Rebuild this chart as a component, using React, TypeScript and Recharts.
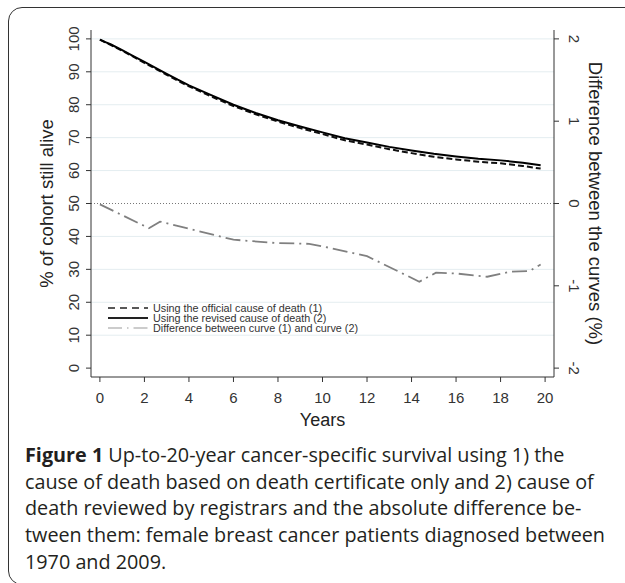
import React from 'react';
import { LineChart, Line, XAxis, YAxis, ReferenceLine, Legend } from 'recharts';

// survival curves (% of cohort still alive) by years since diagnosis
const years = [0, 0.25, 0.5, 1, 1.5, 2, 2.5, 3, 3.5, 4, 5, 6, 7, 8, 9, 10, 11, 12, 13, 14, 15, 16, 17, 18, 19, 19.8];
const officialCause = [99.8, 98.9, 98.1, 96.4, 94.6, 92.7, 90.9, 89.1, 87.3, 85.6, 82.5, 79.6, 77.1, 74.9, 72.9, 71.1, 69.2, 67.9, 66.5, 65.3, 64.2, 63.4, 62.7, 62.2, 61.4, 60.6];
const revisedCause = [99.8, 99.0, 98.3, 96.6, 94.8, 93.0, 91.2, 89.4, 87.6, 85.9, 82.9, 80.0, 77.5, 75.3, 73.4, 71.6, 69.8, 68.5, 67.2, 66.1, 65.1, 64.3, 63.6, 63.1, 62.4, 61.6];

// difference between the curves (%), right axis
const diffYears = [0, 2.2, 2.7, 6.0, 7.9, 9.4, 10.0, 12.0, 14.35, 15.1, 16.0, 17.4, 18.4, 19.3, 19.8];
const difference = [-0.01, -0.3, -0.22, -0.44, -0.48, -0.49, -0.52, -0.64, -0.95, -0.84, -0.85, -0.89, -0.83, -0.82, -0.74];

const xTicks = [0, 2, 4, 6, 8, 10, 12, 14, 16, 18, 20];
const leftTicks = [0, 10, 20, 30, 40, 50, 60, 70, 80, 90, 100];
const rightTicks = [-2, -1, 0, 1, 2];
const gridLevels = [10, 20, 30, 40, 60, 70, 80, 90, 100];
const legendOrder = ['official', 'revised', 'diff'];

const survivalData = years.map((year, i) => ({
  year,
  official: officialCause[i],
  revised: revisedCause[i],
}));
const diffData = diffYears.map((year, i) => ({ year, diff: difference[i] }));

const FONT = '"Liberation Sans", Arial, Helvetica, sans-serif';
const AXIS = '#333';

const LeftTick = ({ x, y, payload }: any) => (
  <text x={x - 5} y={y} transform={`rotate(-90 ${x - 5} ${y})`} textAnchor="middle"
    fontSize={15} fill="#333" fontFamily={FONT}>{payload.value}</text>
);

const RightTick = ({ x, y, payload }: any) => (
  <text x={x + 8} y={y} transform={`rotate(90 ${x + 8} ${y})`} textAnchor="middle"
    fontSize={15} fill="#333" fontFamily={FONT}>{payload.value}</text>
);

const BottomTick = ({ x, y, payload }: any) => (
  <text x={x} y={y + 19} textAnchor="middle" fontSize={15} fill="#333" fontFamily={FONT}>
    {payload.value}
  </text>
);

const LegendBox = ({ payload }: any) => {
  const items = [...(payload || [])].sort(
    (a: any, b: any) => legendOrder.indexOf(a.dataKey) - legendOrder.indexOf(b.dataKey),
  );
  return (
    <div style={{ fontFamily: FONT, fontSize: 10.8, color: '#333', lineHeight: '10px' }}>
      {items.map((p: any) => (
        <div key={p.value} style={{ display: 'flex', alignItems: 'center', height: 10 }}>
          <svg width={44} height={8} style={{ display: 'block' }}>
            <line x1={2} y1={4} x2={42} y2={4} stroke={p.payload.legendColor || p.color}
              strokeWidth={p.payload.legendWidth || 1.5} strokeDasharray={p.payload.legendDash} />
          </svg>
          <span style={{ marginLeft: 3, whiteSpace: 'nowrap' }}>{p.value}</span>
        </div>
      ))}
    </div>
  );
};

export default function App() {
  return (
    <div style={{ position: 'absolute', left: 0, top: 0, width: 625, height: 583, overflow: 'hidden', background: '#fff' }}>
      <div style={{
        position: 'absolute', left: 8, top: 7, width: 640, height: 578,
        border: '1.5px solid #333', borderRadius: 14, boxSizing: 'border-box',
      }} />
      <div style={{ position: 'absolute', left: 0, top: 0 }}>
        <LineChart width={625} height={440} margin={{ top: 30, right: 0, bottom: 0, left: 0 }}>
          <XAxis dataKey="year" type="number" domain={[-0.4, 20.4]} ticks={xTicks} allowDuplicatedCategory={false}
            height={63} stroke={AXIS} tickSize={5} tick={<BottomTick />}
            label={({ viewBox }: any) => (
              <text x={viewBox.x + viewBox.width / 2} y={viewBox.y + 49} textAnchor="middle"
                fontSize={18} fill="#222" fontFamily={FONT}>Years</text>
            )} />
          <YAxis yAxisId="left" domain={[-2.7, 102.7]} ticks={leftTicks} width={91}
            stroke={AXIS} tickSize={5} tick={<LeftTick />}
            label={({ viewBox }: any) => {
              const cy = viewBox.y + viewBox.height / 2;
              return (
                <text x={53} y={cy} transform={`rotate(-90 53 ${cy})`} textAnchor="middle"
                  fontSize={18.5} fill="#222" fontFamily={FONT}>% of cohort still alive</text>
              );
            }} />
          <YAxis yAxisId="right" orientation="right" domain={[-2.108, 2.108]} ticks={rightTicks} width={71}
            stroke={AXIS} tickSize={5} tick={<RightTick />}
            label={({ viewBox }: any) => {
              const cy = viewBox.y + viewBox.height / 2;
              const bx = viewBox.x + 35;
              return (
                <text x={bx} y={cy} transform={`rotate(90 ${bx} ${cy})`} textAnchor="middle"
                  fontSize={18.5} fill="#222" fontFamily={FONT}>Difference between the curves (%)</text>
              );
            }} />
          {gridLevels.map((v) => (
            <ReferenceLine key={v} yAxisId="left" y={v} stroke="#e4edf0" strokeWidth={1} />
          ))}
          <ReferenceLine yAxisId="right" y={0} stroke="#777" strokeWidth={1} strokeDasharray="1 2" />
          <Line data={diffData} yAxisId="right" dataKey="diff" name="Difference between curve (1) and curve (2)"
            type="linear" stroke="#808080" strokeWidth={1.8} strokeDasharray="15 5 2 5" dot={false}
            isAnimationActive={false} legendDash="14 5 1.5 5" legendColor="#9a9a9a" legendWidth={1.2} />
          <Line data={survivalData} yAxisId="left" dataKey="official" name="Using the official cause of death (1)"
            type="linear" stroke="#111" strokeWidth={2} strokeDasharray="6 3" dot={false} isAnimationActive={false}
            legendDash="7 5" legendColor="#222" legendWidth={1.5} />
          <Line data={survivalData} yAxisId="left" dataKey="revised" name="Using the revised cause of death (2)"
            type="linear" stroke="#000" strokeWidth={2} dot={false} isAnimationActive={false}
            legendColor="#222" legendWidth={1.8} />
          <Legend content={<LegendBox />} layout="vertical" align="center" verticalAlign="middle"
            wrapperStyle={{ position: 'absolute', left: 106, top: 303, width: 'auto' }} />
        </LineChart>
      </div>
      <div style={{
        position: 'absolute', left: 25, top: 442, width: 600, fontFamily: '"Open Sans", sans-serif',
        fontSize: 19.8, lineHeight: '26.7px', color: '#231f20', whiteSpace: 'nowrap',
      }}>
        <div><b>Figure 1</b> Up-to-20-year cancer-specific survival using 1) the</div>
        <div>cause of death based on death certificate only and 2) cause of</div>
        <div>death reviewed by registrars and the absolute difference be-</div>
        <div>tween them: female breast cancer patients diagnosed between</div>
        <div>1970 and 2009.</div>
      </div>
    </div>
  );
}
